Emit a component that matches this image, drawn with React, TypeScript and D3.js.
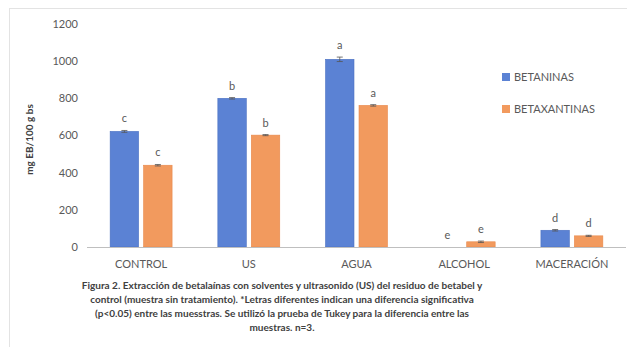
import { useMemo } from 'react';
import * as d3 from 'd3';

const categories = ['CONTROL', 'US', 'AGUA', 'ALCOHOL', 'MACERACIÓN'];
const seriesNames = ['BETANINAS', 'BETAXANTINAS'];
const betaninas = [622, 800, 1010, 0, 90];
const betaxantinas = [440, 602, 762, 28, 60];
const errBetaninas = [5, 4, 12, 0, 4];
const errBetaxantinas = [4, 3, 4, 4, 3];
const lettersBetaninas = ['c', 'b', 'a', 'e', 'd'];
const lettersBetaxantinas = ['c', 'b', 'a', 'e', 'd'];
const yTicks = [0, 200, 400, 600, 800, 1000, 1200];
const captionLines = [
  'Figura 2. Extracción de betalaínas con solventes y ultrasonido (US) del residuo de betabel y',
  'control (muestra sin tratamiento). *Letras diferentes indican una diferencia significativa',
  '(p<0.05) entre las muesstras. Se utilizó la prueba de Tukey para la diferencia entre las',
  'muestras. n=3.',
];

const W = 627;
const H = 347;
const colors = ['#5B82D4', '#F29A5E'];
const font = 'Lato, "Open Sans", sans-serif';

export default function App() {
  const x = useMemo(() => d3.scaleBand().domain(categories).range([87, 626]).paddingInner(0.425).paddingOuter(0.215), []);
  const y = useMemo(() => d3.scaleLinear().domain([0, 1200]).range([247, 24]), []);
  const inner = useMemo(() => d3.scaleBand().domain(seriesNames).range([0, x.bandwidth()]).paddingInner(0.15), [x]);

  const series = [
    { name: seriesNames[0], values: betaninas, err: errBetaninas, letters: lettersBetaninas },
    { name: seriesNames[1], values: betaxantinas, err: errBetaxantinas, letters: lettersBetaxantinas },
  ];

  return (
    <svg width={W} height={H} style={{ position: 'absolute', left: 0, top: 0, background: '#fff' }} fontFamily={font}>
      {/* frame */}
      <rect x={9.5} y={8.5} width={W} height={H} fill="#fff" stroke="#e3e3e3" />

      {/* y ticks */}
      {yTicks.map(t => (
        <text key={t} x={78} y={y(t)} dy="0.35em" textAnchor="end" fontSize={11} fill="#595959">{t}</text>
      ))}

      <text transform={`translate(33,${(y(0) + y(1200)) / 2 + 4}) rotate(-90)`} textAnchor="middle" fontSize={10} fontWeight="bold" fill="#404040">
        mg EB/100 g bs
      </text>

      {/* bars */}
      {series.map((s, si) => (
        <g key={s.name}>
          {categories.map((c, i) => {
            const bx = (x(c) ?? 0) + (inner(s.name) ?? 0);
            const bw = inner.bandwidth();
            const cx = bx + bw / 2;
            const top = y(s.values[i]);
            const et = y(s.values[i] + s.err[i]);
            const eb = y(s.values[i] - s.err[i]);
            return (
              <g key={c}>
                {s.values[i] > 0 && (
                  <rect x={bx} y={top} width={bw} height={y(0) - top} fill={colors[si]} stroke={si === 0 ? '#4A70C2' : '#E8884A'} strokeWidth={0.6} />
                )}
                {s.err[i] > 0 && (
                  <g stroke="#555" strokeWidth={0.8}>
                    <line x1={cx} x2={cx} y1={et} y2={eb} />
                    <line x1={cx - 3} x2={cx + 3} y1={et} y2={et} />
                    <line x1={cx - 3} x2={cx + 3} y1={eb} y2={eb} />
                  </g>
                )}
                <text x={cx} y={et - 8} textAnchor="middle" fontSize={11} fill="#595959">{s.letters[i]}</text>
              </g>
            );
          })}
        </g>
      ))}

      {/* baseline */}
      <line x1={87} x2={626} y1={y(0) + 0.5} y2={y(0) + 0.5} stroke="#bfbfbf" strokeWidth={1} />

      {/* x labels */}
      {categories.map(c => (
        <text key={c} x={(x(c) ?? 0) + x.bandwidth() / 2} y={268} textAnchor="middle" fontSize={11} fill="#595959">{c}</text>
      ))}

      {/* legend */}
      {seriesNames.map((n, i) => (
        <g key={n} transform={`translate(502,${77 + i * 32})`}>
          <rect x={0} y={-4} width={8} height={8} fill={colors[i]} />
          <text x={12} y={0} dy="0.35em" fontSize={11} fill="#595959">{n}</text>
        </g>
      ))}

      {/* caption */}
      {captionLines.map((l, i) => (
        <text key={i} x={282} y={289 + i * 14} textAnchor="middle" fontSize={10} fontWeight="bold" fill="#404040">{l}</text>
      ))}
    </svg>
  );
}
